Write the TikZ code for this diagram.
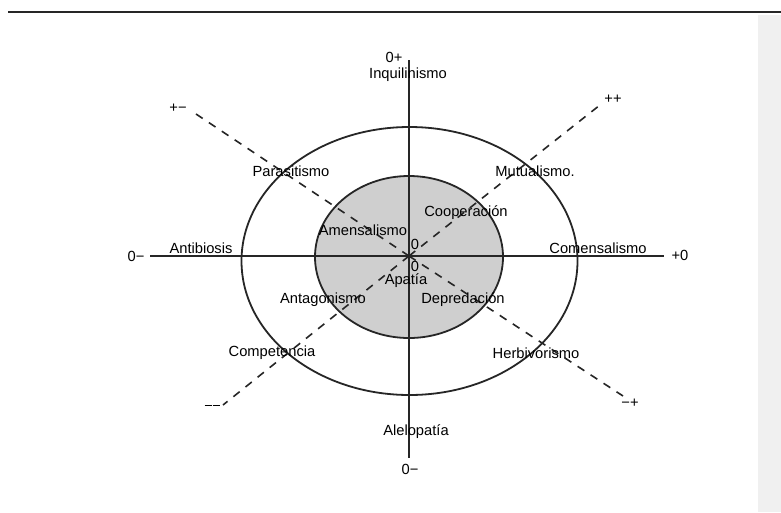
\documentclass[tikz,border=0pt]{standalone}
\usepackage{fontspec}
\setmainfont{Liberation Sans}
\begin{document}
\begin{tikzpicture}[x=1pt,y=-1pt,
  lbl/.style={inner sep=0pt,font=\fontsize{14.7}{17}\selectfont},
  axis/.style={line width=1.6pt,draw=black!85},
  ring/.style={line width=1.8pt,draw=black!85},
  dash line/.style={line width=1.6pt,draw=black!85,dash pattern=on 8pt off 7.5pt}]
\useasboundingbox (0,0) rectangle (781,512);
\fill[white] (0,0) rectangle (781,512);
\fill[black!6] (758,15) rectangle (781,512);
\draw[line width=2.5pt,black!85] (8,12) -- (781,12);
% ellipses
\coordinate (c) at (409,256);
\draw[ring] (409.5,261) ellipse [x radius=168pt, y radius=134pt];
\filldraw[ring,fill=black!19] (409,257) ellipse [x radius=94pt, y radius=81pt];
% axis end points
\coordinate (top) at (409,60);
\coordinate (bot) at (409,458);
\coordinate (lft) at (150,256);
\coordinate (rgt) at (664,256);
\coordinate (ul) at (193,112);
\coordinate (ur) at (600,105);
\coordinate (ll) at (223,405);
\coordinate (lr) at (623,396);
\draw[axis] (top) -- (bot);
\draw[axis] (lft) -- (rgt);
\draw[dash line] (c) -- (ul);
\draw[dash line] (c) -- (ur);
\draw[dash line] (c) -- (ll);
\draw[dash line] (c) -- (lr);
% labels
\node[lbl] (n0p) at (394,57) {0+};
\node[lbl] (inq) at (408,75) {Inquilinismo};
\node[lbl] (pm) at (178,108) {+−};
\node[lbl] (pp) at (613,99) {++};
\node[lbl] (par) at (291,171) {Parasitismo};
\node[lbl] (mut) at (535,171) {Mutualismo.};
\node[lbl] (coo) at (466,213) {Cooperación};
\node[lbl] (ame) at (363,230) {Amensalismo};
\node[lbl] (z1) at (415,244) {0};
\node[lbl] (z2) at (415,266) {0};
\node[lbl] (ant) at (201,248) {Antibiosis};
\node[lbl] (n0m) at (136,256) {0−};
\node[lbl] (com) at (598,248) {Comensalismo};
\node[lbl] (p0) at (680,255) {+0};
\node[lbl] (apa) at (406,281) {Apatía};
\node[lbl] (antg) at (323,300) {Antagonismo};
\node[lbl] (dep) at (463,300) {Depredación};
\node[lbl] (cmp) at (272,353) {Competencia};
\node[lbl] (her) at (536,353) {Herbivorismo};
\node[lbl] (mm) at (212,404) {\rule[-4pt]{7pt}{1.3pt}\hspace{1pt}\rule[-4pt]{7pt}{1.3pt}};
\node[lbl] (mp) at (630,403) {−+};
\node[lbl] (ale) at (416,432) {Alelopatía};
\node[lbl] (b0m) at (410,469) {0−};
\end{tikzpicture}
\end{document}
